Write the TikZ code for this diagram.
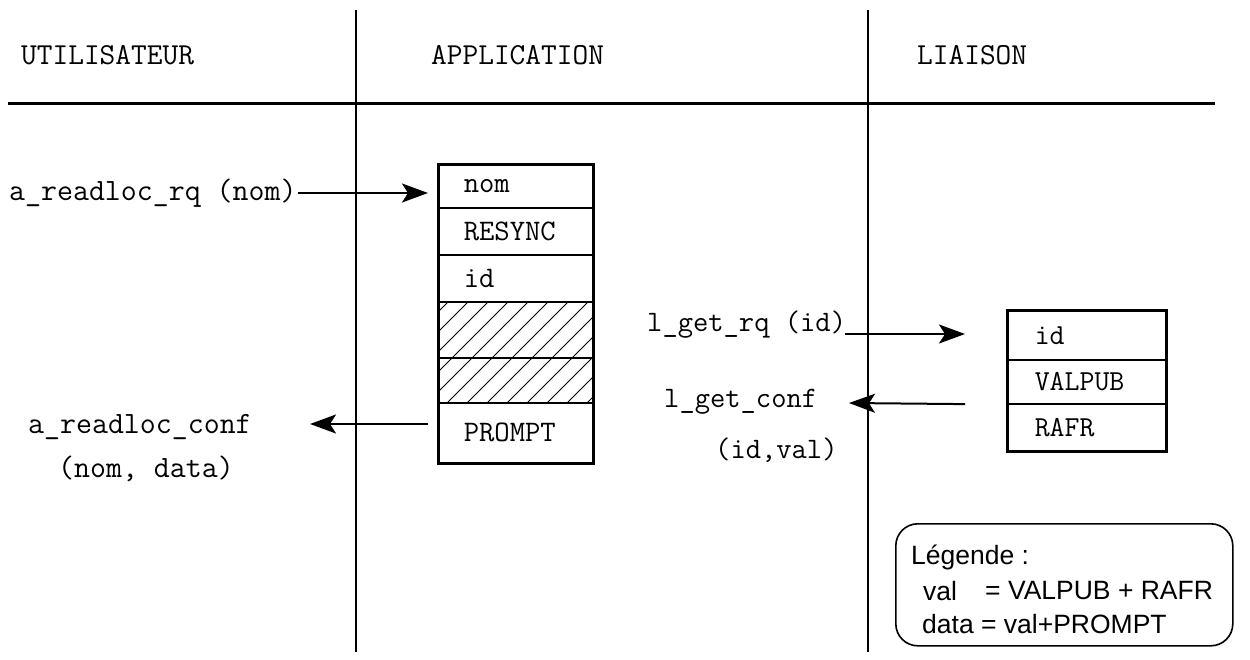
\documentclass[tikz,border=0pt]{standalone}
\usepackage{fontspec}
\setsansfont{Liberation Sans}
\usetikzlibrary{arrows.meta}
\begin{document}
\begin{tikzpicture}[x=1pt,y=-1pt,
  lbl/.style={font=\ttfamily\fontsize{31}{34}\selectfont, inner xsep=1pt, inner ysep=0pt, anchor=west},
  hdr/.style={font=\ttfamily\fontsize{30.5}{34}\selectfont, inner xsep=1pt, inner ysep=0pt, anchor=west},
  mid/.style={font=\ttfamily\fontsize{29.7}{34}\selectfont, inner xsep=1pt, inner ysep=0pt, anchor=west},
  cellL/.style={draw, line width=1.5pt, font=\ttfamily\fontsize{29.8}{34}\selectfont, anchor=north west,
     minimum width=154pt, text width=104pt, inner xsep=25pt, inner ysep=0pt, align=left},
  cellR/.style={draw, line width=1.5pt, font=\ttfamily\fontsize{29}{34}\selectfont, anchor=north west,
     minimum width=158pt, text width=104pt, inner xsep=27pt, inner ysep=0pt, align=left},
  arr/.style={line width=2pt, -{Stealth[length=26pt,width=19pt,inset=6pt]}},
  sep/.style={line width=1.8pt},
  leg/.style={font=\sffamily\fontsize{26.5}{30}\selectfont, inner sep=0pt, anchor=west}
]
\useasboundingbox (0,0) rectangle (1250,659);
\fill[white] (0,0) rectangle (1250,659);

% swimlane separators
\draw[sep] (356,10) -- (356,652);
\draw[sep] (868,10) -- (868,652);
\draw[line width=3pt] (8,103) -- (1215,103);

% headers
\node[hdr] (hU) at (20,55) {UTILISATEUR};
\node[hdr] (hA) at (430,55) {APPLICATION};
\node[hdr] (hL) at (916,55) {LIAISON};

% left record
\node[cellL, minimum height=43pt] (nom) at (438,164) {nom};
\node[cellL, minimum height=47pt] (resync) at (438,207) {RESYNC};
\node[cellL, minimum height=47pt] (lid) at (438,254) {id};
\node[cellL, minimum height=56pt] (h1) at (438,301) {};
\node[cellL, minimum height=45pt] (h2) at (438,357) {};
\node[cellL, minimum height=60pt] (prompt) at (438,402) {PROMPT};
\begin{scope}
  \clip (h1.north west) rectangle (h2.south east);
  \foreach \i in {-7,...,9} {
    \draw[line width=1pt] (418+20*\i,412) -- (538+20*\i,292);
  }
\end{scope}
\draw[line width=1.5pt] (h1.south west) -- (h1.south east);
\draw[line width=3pt] (nom.north west) rectangle (prompt.south east);

% right record
\node[cellR, minimum height=49pt] (rid) at (1007,310) {id};
\node[cellR, minimum height=44pt] (rval) at (1007,359) {VALPUB};
\node[cellR, minimum height=47pt] (rraf) at (1007,403) {RAFR};
\draw[line width=3pt] (rid.north west) rectangle (rraf.south east);

% labels
\node[lbl] (lrq) at (8,193) {a\_readloc\_rq (nom)};
\node[lbl] (lconf) at (27,427) {a\_readloc\_conf};
\node[lbl] (lconf2) at (57,469) {(nom, data)};
\node[mid] (grq) at (646,325) {l\_get\_rq (id)};
\node[mid] (gconf) at (663,402) {l\_get\_conf};
\node[mid] (gconf2) at (714,450) {(id,val)};

% arrows
\coordinate (a1) at (lrq.east);
\draw[arr, shorten >=10pt] (a1) -- (a1 -| nom.west);
\coordinate (a2) at (438,424);
\draw[arr, shorten <=10pt] (a2) -- (310,424);
\coordinate (a3) at (845,334);
\draw[arr, shorten >=42pt] (a3) -- (a3 -| rid.west);
\coordinate (a4) at (rval.south west);
\draw[arr, shorten <=42pt] (a4) -- (849,403);

% legend
\node[draw, line width=1.6pt, rounded corners=22pt, anchor=north west,
      minimum width=337pt, minimum height=122pt, inner sep=0pt] (legbox) at (895,523) {};
\node[leg] (lg1) at (911,557) {Légende :};
\node[leg] (lg2) at (923,591) {val};
\node[leg] (lg3) at (985,591) {= VALPUB + RAFR};
\node[leg] (lg4) at (922,624) {data = val+PROMPT};
\end{tikzpicture}
\end{document}
